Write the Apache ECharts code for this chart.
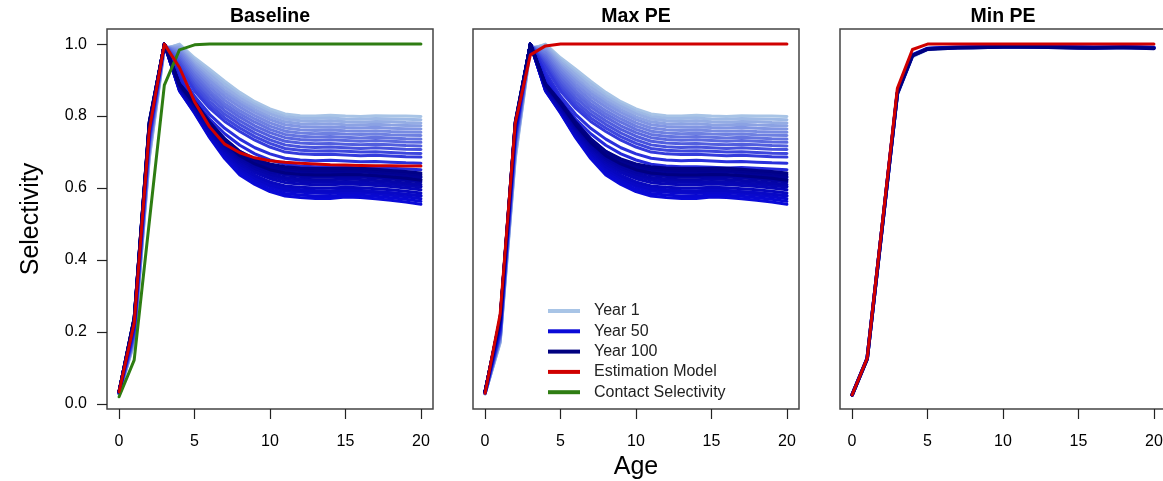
<!DOCTYPE html>
<html>
<head>
<meta charset="utf-8">
<script src="https://cdn.jsdelivr.net/npm/echarts@6/dist/echarts.min.js"></script>
<style>
  html, body { margin: 0; padding: 0; background: #fff; }
  #chart { width: 1163px; height: 481px; }
</style>
</head>
<body>
<div id="chart"></div>
<script>
// ages on the x axis
const ages = [0, 1, 2, 3, 4, 5, 6, 7, 8, 9, 10, 11, 12, 13, 14, 15, 16, 17, 18, 19, 20];

// operating model selectivity, a sample of simulation years (Baseline and Max PE share these)
const omYears = [1, 4, 7, 10, 13, 16, 19, 22, 25, 28, 31, 34, 37, 40, 42, 44, 46, 48, 50,
                 53, 56, 60, 64, 68, 72, 76, 80, 84, 88, 92, 96, 100];
const omSel = [
  [.028, .170, .680, .985, 1.00, .962, .930, .897, .866, .840, .820, .806, .801, .800, .802, .800, .799, .801, .800, .800, .799],
  [.028, .172, .685, .988, .998, .956, .922, .889, .858, .833, .813, .799, .794, .793, .795, .792, .791, .793, .792, .791, .790],
  [.028, .175, .690, .990, .994, .950, .915, .880, .850, .826, .806, .792, .787, .785, .787, .784, .783, .785, .784, .782, .781],
  [.029, .177, .695, .991, .990, .943, .906, .871, .842, .818, .798, .784, .779, .777, .779, .776, .775, .777, .775, .774, .773],
  [.029, .180, .700, .993, .985, .937, .898, .863, .834, .810, .790, .776, .771, .769, .770, .768, .767, .769, .766, .765, .764],
  [.029, .182, .705, .994, .980, .930, .889, .854, .825, .801, .781, .767, .762, .760, .761, .759, .758, .759, .757, .756, .755],
  [.029, .185, .710, .995, .975, .922, .880, .844, .815, .792, .772, .758, .753, .751, .752, .750, .749, .750, .748, .747, .746],
  [.030, .187, .715, .996, .968, .914, .870, .834, .806, .783, .763, .749, .744, .742, .743, .741, .739, .741, .739, .737, .736],
  [.030, .190, .720, .997, .962, .905, .861, .825, .797, .773, .754, .740, .735, .733, .734, .732, .730, .732, .730, .728, .727],
  [.030, .192, .725, .997, .955, .896, .851, .815, .787, .763, .744, .730, .725, .723, .724, .722, .720, .722, .720, .718, .717],
  [.030, .195, .730, .998, .948, .887, .841, .805, .777, .753, .734, .720, .715, .713, .714, .712, .710, .712, .710, .708, .707],
  [.031, .197, .734, .998, .941, .878, .831, .795, .767, .743, .724, .710, .705, .703, .704, .702, .700, .701, .699, .697, .696],
  [.031, .200, .738, .999, .935, .870, .822, .785, .757, .733, .714, .700, .695, .693, .694, .692, .690, .691, .689, .687, .686],
  [.031, .205, .745, 1.00, .922, .855, .805, .766, .736, .712, .695, .683, .678, .676, .677, .675, .673, .674, .672, .670, .669],
  [.032, .207, .748, 1.00, .912, .845, .792, .751, .719, .695, .678, .666, .661, .659, .659, .658, .656, .657, .655, .653, .651],
  [.032, .210, .750, 1.00, .902, .836, .780, .736, .702, .677, .659, .647, .642, .639, .639, .638, .636, .637, .634, .632, .630],
  [.032, .213, .753, 1.00, .893, .827, .768, .720, .684, .657, .638, .626, .620, .617, .616, .617, .615, .614, .611, .608, .605],
  [.033, .217, .757, 1.00, .881, .817, .754, .700, .660, .633, .613, .601, .596, .593, .592, .595, .593, .590, .587, .583, .579],
  [.033, .220, .760, 1.00, .870, .808, .740, .682, .636, .610, .590, .578, .574, .571, .571, .575, .574, .570, .566, .561, .555],
  [.033, .223, .763, 1.00, .871, .810, .743, .686, .642, .616, .596, .585, .581, .578, .578, .581, .580, .577, .573, .569, .563],
  [.033, .225, .765, 1.00, .872, .812, .746, .690, .648, .622, .603, .592, .588, .586, .585, .588, .587, .584, .580, .576, .570],
  [.034, .227, .768, 1.00, .874, .814, .750, .695, .654, .628, .609, .598, .594, .592, .592, .594, .593, .590, .587, .583, .578],
  [.034, .228, .770, 1.00, .876, .817, .754, .700, .660, .635, .617, .606, .602, .600, .600, .602, .601, .598, .595, .591, .586],
  [.034, .230, .772, 1.00, .878, .820, .758, .706, .667, .643, .626, .615, .611, .609, .609, .611, .610, .607, .604, .600, .595],
  [.034, .231, .774, 1.00, .880, .823, .762, .711, .673, .649, .632, .622, .618, .616, .616, .618, .617, .614, .611, .607, .603],
  [.034, .233, .776, 1.00, .882, .826, .766, .716, .678, .655, .639, .629, .625, .623, .623, .625, .624, .621, .618, .614, .610],
  [.035, .234, .777, 1.00, .884, .829, .770, .720, .684, .661, .645, .636, .632, .630, .630, .632, .631, .628, .625, .621, .617],
  [.035, .236, .779, 1.00, .886, .833, .774, .725, .689, .666, .651, .642, .639, .637, .637, .639, .638, .635, .632, .628, .624],
  [.035, .237, .780, 1.00, .887, .835, .777, .729, .694, .672, .657, .649, .646, .644, .644, .645, .645, .642, .639, .635, .631],
  [.035, .238, .782, 1.00, .889, .838, .781, .733, .698, .677, .662, .654, .651, .649, .649, .650, .650, .647, .644, .641, .637],
  [.035, .239, .783, 1.00, .890, .840, .784, .737, .702, .681, .667, .659, .656, .654, .654, .655, .655, .652, .649, .646, .642],
  [.035, .240, .785, 1.00, .888, .834, .776, .727, .690, .667, .651, .642, .638, .636, .636, .638, .637, .634, .631, .627, .622]
];

// Min PE operating model years
const minPeYears = [1, 25, 50, 75, 100];
const minPeSel = [
  [0.025, 0.125, 0.490, 0.860, 0.965, 0.985, 0.988, 0.990, 0.990, 0.991, 0.992, 0.992, 0.993, 0.992, 0.992, 0.991, 0.990, 0.990, 0.991, 0.990, 0.990],
  [0.025, 0.126, 0.492, 0.862, 0.968, 0.987, 0.989, 0.991, 0.991, 0.992, 0.993, 0.993, 0.993, 0.993, 0.992, 0.992, 0.991, 0.991, 0.992, 0.991, 0.991],
  [0.025, 0.127, 0.495, 0.865, 0.970, 0.988, 0.990, 0.991, 0.992, 0.993, 0.994, 0.994, 0.994, 0.993, 0.993, 0.992, 0.991, 0.992, 0.993, 0.992, 0.990],
  [0.025, 0.126, 0.494, 0.864, 0.969, 0.987, 0.989, 0.990, 0.991, 0.992, 0.993, 0.993, 0.992, 0.992, 0.991, 0.990, 0.989, 0.990, 0.991, 0.990, 0.989],
  [0.025, 0.125, 0.493, 0.863, 0.968, 0.986, 0.988, 0.990, 0.990, 0.991, 0.992, 0.992, 0.992, 0.991, 0.990, 0.989, 0.989, 0.990, 0.990, 0.989, 0.988]
];

// estimation model selectivity per panel
const emBaseline = [0.034, 0.224, 0.760, 1.000, 0.935, 0.840, 0.770, 0.722, 0.698, 0.684, 0.676, 0.672, 0.669, 0.667, 0.665, 0.664, 0.663, 0.662, 0.662, 0.661, 0.661];
const emMaxPE = [0.030, 0.250, 0.780, 0.970, 0.995, 1.000, 1.000, 1.000, 1.000, 1.000, 1.000, 1.000, 1.000, 1.000, 1.000, 1.000, 1.000, 1.000, 1.000, 1.000, 1.000];
const emMinPE = [0.025, 0.127, 0.500, 0.877, 0.985, 1.000, 1.000, 1.000, 1.000, 1.000, 1.000, 1.000, 1.000, 1.000, 1.000, 1.000, 1.000, 1.000, 1.000, 1.000, 1.000];

// contact selectivity (Baseline only)
const contactSel = [0.020, 0.122, 0.505, 0.886, 0.984, 0.998, 1.000, 1.000, 1.000, 1.000, 1.000, 1.000, 1.000, 1.000, 1.000, 1.000, 1.000, 1.000, 1.000, 1.000, 1.000];

const panelTitles = ['Baseline', 'Max PE', 'Min PE'];
const xTicks = [0, 5, 10, 15, 20];
const yTicks = [0, 0.2, 0.4, 0.6, 0.8, 1.0];

const FONT = "'Liberation Sans', Arial, sans-serif";
const RED = '#d00000';
const GREEN = '#2e7d12';

// light blue -> blue -> navy ramp over the years
function yearColor(y) {
  const a = [168, 196, 230], b = [10, 10, 216], c = [0, 0, 128];
  let t, p, q;
  if (y <= 50) { t = (y - 1) / 49; p = a; q = b; }
  else { t = (y - 50) / 50; p = b; q = c; }
  return 'rgb(' + p.map((v, i) => Math.round(v + (q[i] - v) * t)).join(',') + ')';
}

function pts(vals) {
  return ages.map((a, i) => [a, vals[i]]);
}

function lineSeries(name, vals, idx, color, width, z) {
  return {
    name: name,
    type: 'line',
    xAxisIndex: idx,
    yAxisIndex: idx,
    data: pts(vals),
    symbol: 'none',
    silent: true,
    z: z,
    itemStyle: { color: color },
    lineStyle: { color: color, width: width, join: 'round', cap: 'round' }
  };
}

const chart = echarts.init(document.getElementById('chart'));

const grids = [
  { left: 107, top: 29, width: 326, height: 380 },
  { left: 473, top: 29, width: 326, height: 380 },
  { left: 840, top: 29, width: 326, height: 380 }
].map(g => Object.assign(g, {
  show: true, borderColor: '#444', borderWidth: 1.5, backgroundColor: 'transparent',
  outerBoundsMode: 'none', containLabel: false
}));

const xAxes = [0, 1, 2].map(i => ({
  type: 'value',
  gridIndex: i,
  min: -0.8,
  max: 20.8,
  axisLine: { show: false, onZero: false },
  splitLine: { show: false },
  axisTick: { show: true, length: 10, customValues: xTicks, lineStyle: { color: '#222', width: 1.2 } },
  axisLabel: { customValues: xTicks, margin: 25, fontSize: 16, color: '#000', fontFamily: FONT },
  name: i === 1 ? 'Age' : '',
  nameLocation: 'middle',
  nameGap: 44,
  nameTextStyle: { fontSize: 25, color: '#000', fontFamily: FONT }
}));

const yAxes = [0, 1, 2].map(i => ({
  type: 'value',
  gridIndex: i,
  show: i === 0,
  min: -0.014,
  max: 1.042,
  axisLine: { show: false, onZero: false },
  splitLine: { show: false },
  axisTick: { show: true, length: 10, customValues: yTicks, lineStyle: { color: '#222', width: 1.2 } },
  axisLabel: { customValues: yTicks, margin: 20, fontSize: 16, color: '#000', fontFamily: FONT,
    formatter: v => v.toFixed(1) },
  name: i === 0 ? 'Selectivity' : '',
  nameLocation: 'middle',
  nameGap: 63,
  nameTextStyle: { fontSize: 25, color: '#000', fontFamily: FONT }
}));

const series = [];
[0, 1].forEach(p => {
  omYears.forEach((y, k) => {
    series.push(lineSeries('Year ' + y, omSel[k], p, yearColor(y), 3, 2));
  });
});
minPeYears.forEach((y, k) => {
  series.push(lineSeries('Year ' + y, minPeSel[k], 2, yearColor(y), 3.5, 2));
});
series.push(lineSeries('Estimation Model', emBaseline, 0, RED, 3, 5));
series.push(lineSeries('Contact Selectivity', contactSel, 0, GREEN, 3, 4));
series.push(lineSeries('Estimation Model', emMaxPE, 1, RED, 3, 5));
series.push(lineSeries('Estimation Model', emMinPE, 2, RED, 3, 5));

chart.setOption({
  backgroundColor: '#fff',
  animation: false,
  grid: grids,
  xAxis: xAxes,
  yAxis: yAxes,
  legend: {
    data: ['Year 1', 'Year 50', 'Year 100', 'Estimation Model', 'Contact Selectivity'],
    orient: 'vertical',
    left: 543,
    top: 297,
    icon: 'rect',
    itemWidth: 32,
    itemHeight: 4,
    itemGap: 2.3,
    selectedMode: false,
    textStyle: { fontSize: 16, lineHeight: 18, color: '#222', fontFamily: FONT, padding: [0, 0, 0, 9] }
  },
  graphic: panelTitles.map((t, i) => ({
    type: 'text',
    x: grids[i].left + grids[i].width / 2,
    y: 17,
    style: { text: t, fontSize: 19.5, fontWeight: 'bold', fontFamily: FONT, fill: '#000',
      textAlign: 'center', textVerticalAlign: 'middle' }
  })),
  series: series
});
</script>
</body>
</html>
